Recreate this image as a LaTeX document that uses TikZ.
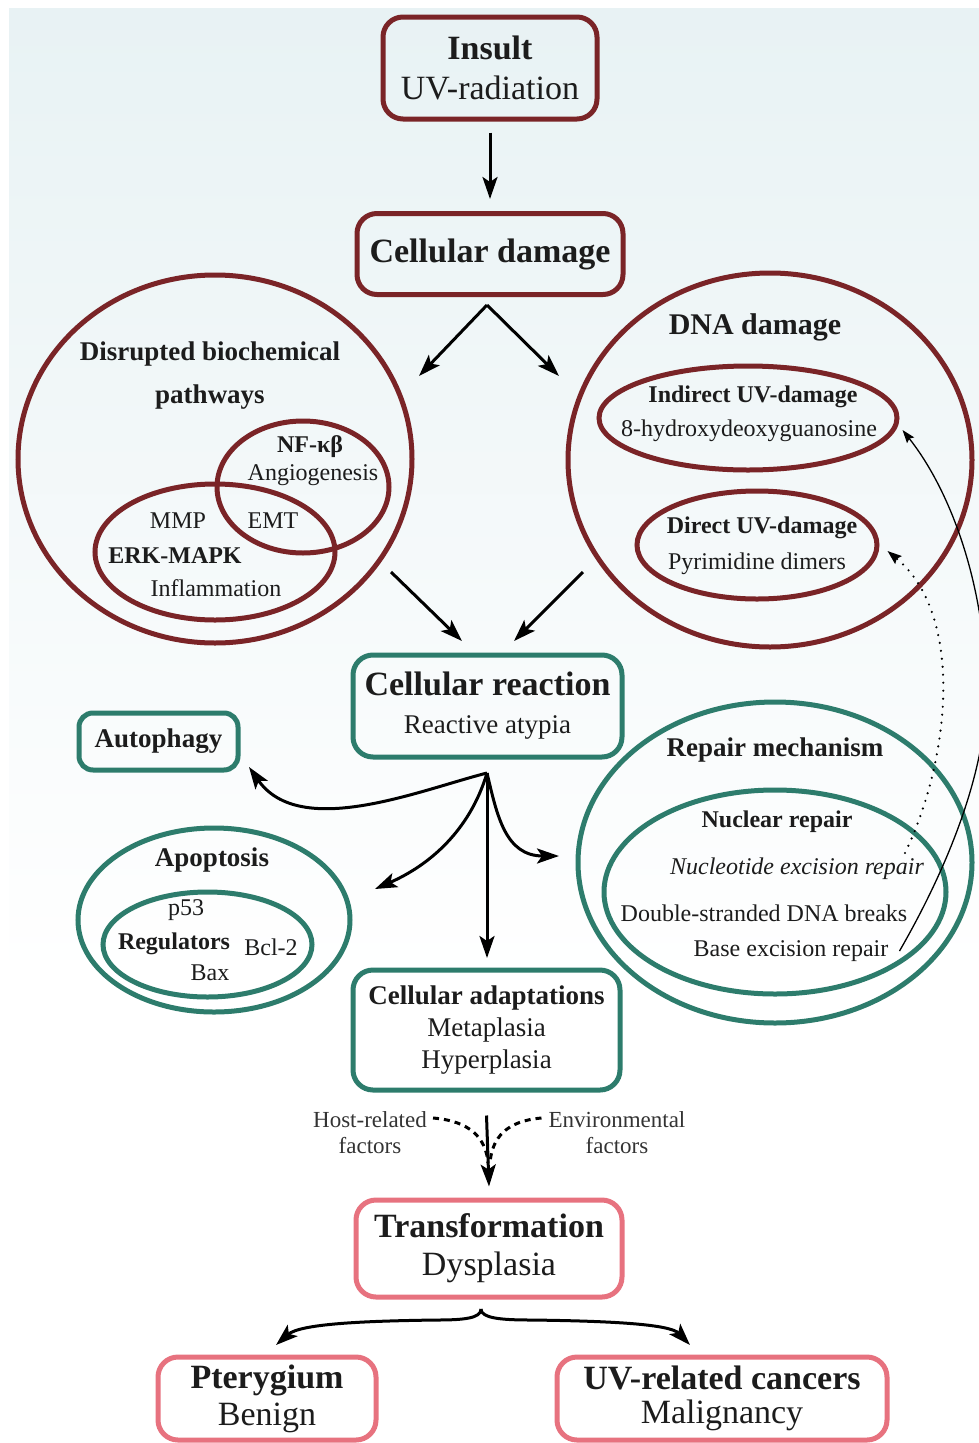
\documentclass[tikz,border=0pt]{standalone}
\usepackage{fontspec}
\setmainfont{Liberation Serif}
\usetikzlibrary{arrows.meta,shapes.geometric}

\definecolor{dmgred}{HTML}{7A2427}
\definecolor{reactteal}{HTML}{2D7C6C}
\definecolor{transpink}{HTML}{E7727F}
\definecolor{skytop}{HTML}{E8F2F4}
\definecolor{inktext}{HTML}{1C1C1C}

\newcommand{\fbig}{\fontsize{34}{38}\selectfont}
\newcommand{\fmid}{\fontsize{27}{32}\selectfont}
\newcommand{\fsml}{\fontsize{24}{28}\selectfont}

\tikzset{
  box/.style={draw,rounded corners=20pt,line width=5pt,align=center,inner sep=0pt,text=inktext},
  redbox/.style={box,draw=dmgred},
  tealbox/.style={box,draw=reactteal},
  pinkbox/.style={box,draw=transpink},
  ring/.style={ellipse,draw,line width=5pt,inner sep=0pt},
  lbl/.style={text=inktext,inner sep=0pt,font=\fsml},
  flow/.style={line width=3pt,-{Stealth[length=22pt,width=15pt,inset=5pt]}},
  thinflow/.style={line width=1.3pt,-{Stealth[length=13pt,width=9pt,inset=2pt]}},
  dotflow/.style={line width=2.4pt,line cap=round,dash pattern=on 0pt off 8pt,-{Stealth[length=14pt,width=10pt,inset=2pt]}},
  factor/.style={line width=3pt,dash pattern=on 6pt off 5pt},
}

\begin{document}
\begin{tikzpicture}[x=1pt,y=-1pt]
\useasboundingbox (0,0) rectangle (979,1443);
% background wash
\shade[top color=skytop,bottom color=white] (9,8) rectangle (979,980);

% insult and damage
\node[redbox,minimum width=214pt,minimum height=102pt,font=\fontsize{34}{40}\selectfont] (insult) at (490,68) {\textbf{Insult}\\UV-radiation};
\node[redbox,minimum width=266pt,minimum height=81pt,font=\fbig] (damage) at (490,254) {\textbf{Cellular damage}};
\draw[flow] ([yshift=-11pt]insult.south) -- ([yshift=12pt]damage.north);

\coordinate (dmgsplit) at (487,305);
\coordinate (toleft) at (419,376);
\coordinate (toright) at (559,376);
\draw[flow] (dmgsplit) -- (toleft);
\draw[flow] (dmgsplit) -- (toright);

% disrupted pathways
\node[ring,draw=dmgred,minimum width=394pt,minimum height=368pt] (pathways) at (215,459) {};
\node[ring,draw=dmgred,minimum width=172pt,minimum height=132pt] (nfkb) at (303,487) {};
\node[ring,draw=dmgred,minimum width=240pt,minimum height=136pt] (erk) at (215,552) {};
\node[lbl,font=\fontsize{27}{43}\selectfont,align=center] (pwtitle) at (210,376) {\textbf{Disrupted biochemical}\\\textbf{pathways}};
\node[lbl] (nfkbname) at (310,447) {\textbf{NF-κβ}};
\node[lbl] (angio) at (313,475) {Angiogenesis};
\node[lbl] (mmp) at (178,521) {MMP};
\node[lbl] (emt) at (273,521) {EMT};
\node[lbl] (erkname) at (175,556) {\textbf{ERK-MAPK}};
\node[lbl] (inflam) at (216,588) {Inflammation};

% dna damage
\node[ring,draw=dmgred,minimum width=404pt,minimum height=374pt] (dna) at (770,460) {};
\node[ring,draw=dmgred,minimum width=298pt,minimum height=104pt] (indirect) at (748,418) {};
\node[ring,draw=dmgred,minimum width=240pt,minimum height=108pt] (direct) at (757,545) {};
\node[lbl,font=\fontsize{30}{34}\selectfont] (dnatitle) at (755,327) {\textbf{DNA damage}};
\node[lbl] (indname) at (753,397) {\textbf{Indirect UV-damage}};
\node[lbl] (ohdg) at (749,431) {8-hydroxydeoxyguanosine};
\node[lbl] (dirname) at (762,528) {\textbf{Direct UV-damage}};
\node[lbl] (pyrim) at (757,564) {Pyrimidine dimers};

\coordinate (pwout) at (391,572);
\coordinate (dnaout) at (583,572);
\coordinate (reacinL) at (462,641);
\coordinate (reacinR) at (514,641);
\draw[flow] (pwout) -- (reacinL);
\draw[flow] (dnaout) -- (reacinR);

% cellular reaction
\node[tealbox,minimum width=269pt,minimum height=102pt,font=\fbig] (reaction) at (487.5,706) {\textbf{Cellular reaction}\\{\fmid Reactive atypia}};
\node[tealbox,rounded corners=14pt,minimum width=159pt,minimum height=57pt,font=\fmid] (autophagy) at (158.5,741.5) {\textbf{Autophagy}};

% apoptosis
\node[ring,draw=reactteal,minimum width=272pt,minimum height=184pt] (apoptosis) at (214,920) {};
\node[ring,draw=reactteal,minimum width=209pt,minimum height=105pt] (regulators) at (207.5,944.5) {};
\node[lbl,font=\fmid] (apotitle) at (212,860) {\textbf{Apoptosis}};
\node[lbl] (p53) at (186,910) {p53};
\node[lbl] (regname) at (174,944) {\textbf{Regulators}};
\node[lbl] (bcl) at (271,947) {Bcl-2};
\node[lbl] (bax) at (210,973) {Bax};

% repair
\node[ring,draw=reactteal,minimum width=394pt,minimum height=321pt] (repair) at (775,862.5) {};
\node[ring,draw=reactteal,minimum width=342pt,minimum height=204pt] (nuclear) at (775,892) {};
\node[lbl,font=\fmid] (reptitle) at (775,750) {\textbf{Repair mechanism}};
\node[lbl] (nucname) at (777,822) {\textbf{Nuclear repair}};
\node[lbl] (nucexc) at (797,869) {\textit{Nucleotide excision repair}};
\node[lbl] (dsb) at (764,913) {Double-stranded DNA breaks};
\node[lbl] (baseexc) at (791,951) {Base excision repair};

% branches of the reaction
\coordinate (hub) at (487,773);
\coordinate (autotip) at (249,767);
\coordinate (apotip) at (375,889);
\coordinate (adapttip) at (487,958);
\coordinate (repairtip) at (559,856);
\draw[flow] (hub) .. controls (420,790) and (300,840) .. (autotip);
\draw[flow] (hub) .. controls (470,830) and (430,865) .. (apotip);
\draw[flow] (hub) -- (adapttip);
\draw[flow] (hub) .. controls (497,815) and (505,856) .. (repairtip);

% repair feeds back to dna damage
\coordinate (dotstart) at (905,853);
\draw[thinflow] ([xshift=11pt]baseexc.east) .. controls (952,860) and (990,760) .. (986,680) .. controls (983,580) and (950,490) .. ([xshift=3pt,yshift=-12pt]indirect.east);
\draw[dotflow] (dotstart) .. controls (950,760) and (965,615) .. ([xshift=8pt,yshift=-6pt]direct.east);

% adaptations
\node[tealbox,minimum width=267pt,minimum height=120pt,font=\fontsize{27}{32}\selectfont] (adapt) at (486.5,1030) {\textbf{Cellular adaptations}\\Metaplasia\\Hyperplasia};

\node[lbl,font=\fontsize{23}{26}\selectfont,align=center,text=black!80] (host) at (370,1133) {Host-related\\factors};
\node[lbl,font=\fontsize{23}{26}\selectfont,align=center,text=black!80] (envir) at (617,1133) {Environmental\\factors};

% transformation
\node[pinkbox,minimum width=266pt,minimum height=97pt,font=\fbig] (trans) at (489,1248.5) {\textbf{Transformation}\\Dysplasia};
\draw[flow] ([yshift=-23pt]adapt.south) -- ([yshift=11pt]trans.north);
\draw[factor] ([xshift=6pt,yshift=15pt]host.east) .. controls (470,1121) and (486,1138) .. (488,1163);
\draw[factor] ([xshift=-7pt,yshift=15pt]envir.west) .. controls (506,1121) and (492,1138) .. (490,1163);

% outcomes
\node[pinkbox,minimum width=218pt,minimum height=83pt,font=\fontsize{34}{37}\selectfont] (ptery) at (267,1398.5) {\textbf{Pterygium}\\Benign};
\node[pinkbox,minimum width=330pt,minimum height=83pt,font=\fontsize{34}{34}\selectfont] (cancer) at (722,1398.5) {\textbf{UV-related cancers}\\Malignancy};

\coordinate (split) at (481,1309);
\draw[flow] (split) .. controls (481,1318) and (465,1320) .. (437,1320) .. controls (360,1321) and (300,1324) .. (276,1345);
\draw[flow] (split) .. controls (481,1318) and (500,1320) .. (531,1320) .. controls (610,1321) and (670,1324) .. (690,1345);
\end{tikzpicture}
\end{document}
